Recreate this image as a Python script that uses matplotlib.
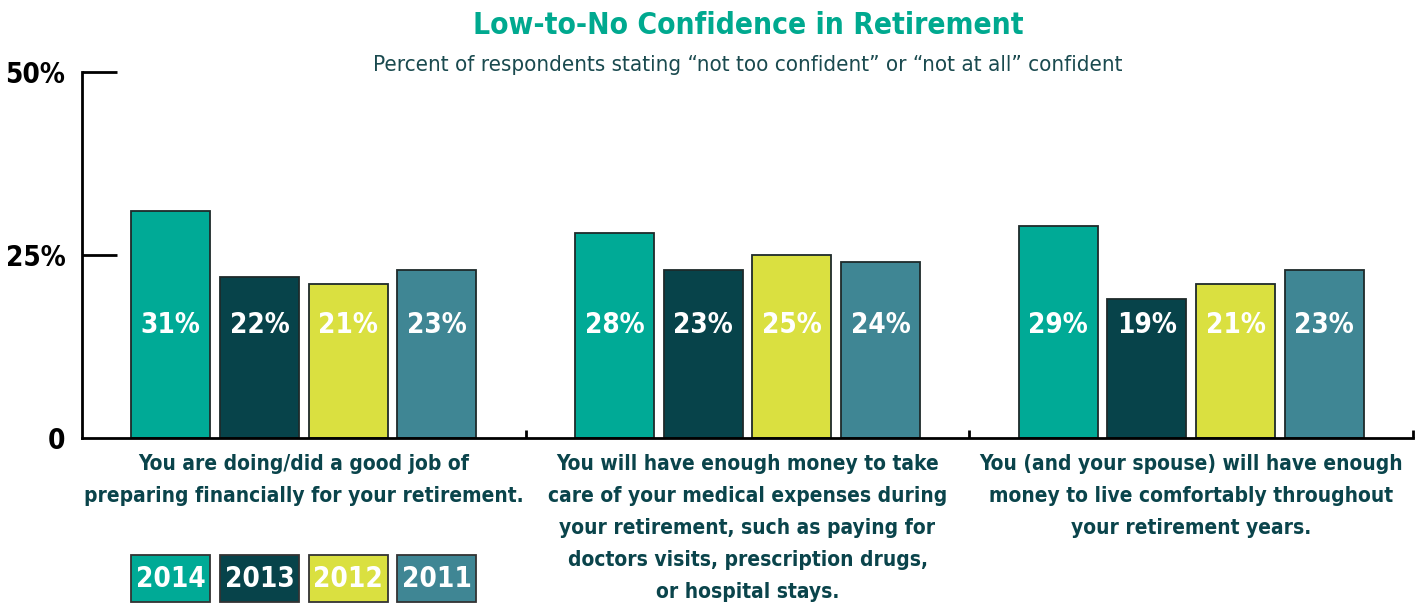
import matplotlib.pyplot as plt
import matplotlib.transforms as mtransforms
from matplotlib.patches import Rectangle
import numpy as np

plt.rcParams['font.family'] = ['DejaVu Sans']
plt.rcParams['font.stretch'] = 'condensed'

# data
years = ['2014', '2013', '2012', '2011']
colors = ['#00AA96', '#07434A', '#DAE040', '#3F8694']
questions = [
    "You are doing/did a good job of\npreparing financially for your retirement.",
    "You will have enough money to take\ncare of your medical expenses during\nyour retirement, such as paying for\ndoctors visits, prescription drugs,\nor hospital stays.",
    "You (and your spouse) will have enough\nmoney to live comfortably throughout\nyour retirement years.",
]
vals_2014 = [31, 28, 29]
vals_2013 = [22, 23, 19]
vals_2012 = [21, 25, 21]
vals_2011 = [23, 24, 23]
series = [vals_2014, vals_2013, vals_2012, vals_2011]

fig = plt.figure(figsize=(14.22, 6.10), dpi=100)
ax = fig.add_axes([0.0577, 0.282, 0.936, 0.600])

x = np.arange(len(questions))
w = 0.178
step = 0.2
for i, vals in enumerate(series):
    pos = x + (i - 1.5) * step
    ax.bar(pos, vals, width=w, color=colors[i], edgecolor='#1e2a2a', linewidth=1.3, zorder=2)
    for px, v in zip(pos, vals):
        ax.text(px, 15.4, f"{v}%", ha='center', va='center', color='white',
                fontsize=20, fontweight='bold', zorder=3)

ax.set_xlim(-0.5, 2.5)
ax.set_ylim(0, 50)

for s in ['top', 'right']:
    ax.spines[s].set_visible(False)
ax.spines['left'].set_linewidth(2)
ax.spines['bottom'].set_linewidth(2)

ax.set_yticks([0, 25, 50])
ax.set_yticklabels(['0', '25%', '50%'], fontsize=20, fontweight='bold')
ax.tick_params(axis='y', direction='in', length=25, width=2, pad=12)
ax.yaxis.get_major_ticks()[0].tick1line.set_visible(False)

ax.set_xticks([0.5, 1.5, 2.5])
ax.set_xticklabels([])
ax.tick_params(axis='x', direction='in', length=6, width=2)

# category labels
trans = mtransforms.blended_transform_factory(ax.transData, ax.transAxes)
for xi, q in zip(x, questions):
    ax.text(xi, -0.045, q, transform=trans, ha='center', va='top', fontsize=15,
            fontweight='bold', color='#0A444B', linespacing=1.75)

# legend boxes under the first group
for i, yr in enumerate(years):
    left = (i - 1.5) * step - w / 2
    ax.add_patch(Rectangle((left, -0.448), w, 0.128, transform=trans, clip_on=False,
                           facecolor=colors[i], edgecolor='#333333', linewidth=1.3))
    ax.text(left + w / 2, -0.384, yr, transform=trans, ha='center', va='center',
            color='white', fontsize=20, fontweight='bold')

fig.text(0.526, 0.958, "Low-to-No Confidence in Retirement", ha='center', va='center',
         fontsize=21.5, fontweight='bold', color='#00A98F')
fig.text(0.526, 0.893, "Percent of respondents stating \u201cnot too confident\u201d or \u201cnot at all\u201d confident",
         ha='center', va='center', fontsize=16, color='#1A4A4F')

fig.savefig('out.png', dpi=100)
